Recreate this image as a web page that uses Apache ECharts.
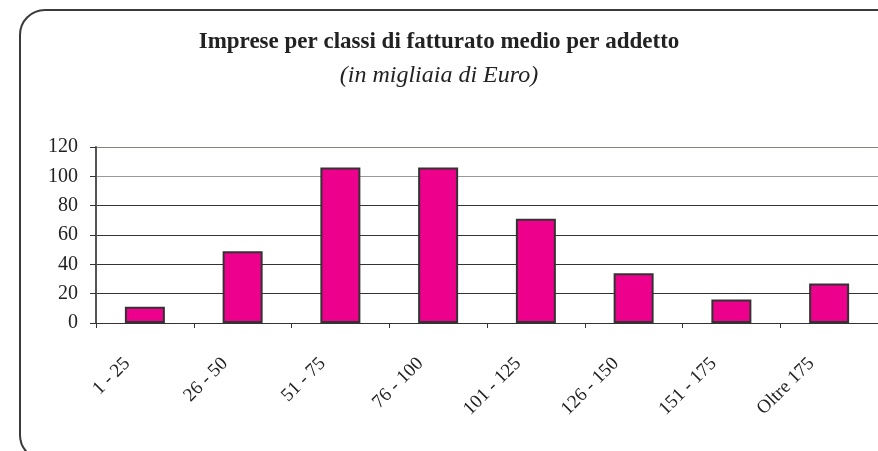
<!DOCTYPE html>
<html>
<head>
<meta charset="utf-8">
<script src="https://cdn.jsdelivr.net/npm/echarts@6/dist/echarts.min.js"></script>
<style>
  html, body { margin: 0; padding: 0; background: #fff; }
  #chart { width: 878px; height: 451px; }
</style>
</head>
<body>
<div id="chart"></div>
<script>
// classi di fatturato medio per addetto (migliaia di Euro)
const categories = ['1 - 25', '26 - 50', '51 - 75', '76 - 100', '101 - 125', '126 - 150', '151 - 175', 'Oltre 175'];
const imprese = [11, 49, 106, 106, 71, 34, 16, 27];
const yTicks = [0, 20, 40, 60, 80, 100, 120];

const serif = "'Liberation Serif', 'DejaVu Serif', serif";

const chart = echarts.init(document.getElementById('chart'));
chart.setOption({
  animation: false,
  backgroundColor: '#fff',
  title: [
    {
      text: 'Imprese per classi di fatturato medio per addetto',
      left: 'center',
      top: 31,
      padding: [0, 0, 0, 14],
      textStyle: { fontFamily: serif, fontSize: 23, fontWeight: 'bold', color: '#222' }
    },
    {
      text: '(in migliaia di Euro)',
      left: 'center',
      top: 64,
      padding: [0, 0, 0, 6],
      textStyle: { fontFamily: serif, fontSize: 24, fontStyle: 'italic', fontWeight: 'normal', color: '#222' }
    }
  ],
  // cornice arrotondata
  graphic: [
    {
      type: 'rect',
      z: -1,
      shape: { x: 20, y: 10, width: 900, height: 450, r: 25 },
      style: { fill: 'none', stroke: '#3a3a3a', lineWidth: 2 }
    }
  ],
  grid: { left: 96, right: 0, top: 147, bottom: 128 },
  xAxis: {
    type: 'category',
    data: categories,
    axisLine: { lineStyle: { color: '#333', width: 1 } },
    axisTick: { show: true, length: 5, lineStyle: { color: '#333' } },
    axisLabel: {
      interval: 0,
      rotate: 45,
      margin: 20,
      padding: [0, 25, 0, 0],
      fontFamily: serif,
      fontSize: 19,
      color: '#222'
    }
  },
  yAxis: {
    type: 'value',
    min: yTicks[0],
    max: yTicks[yTicks.length - 1],
    interval: 20,
    axisLine: { show: true, lineStyle: { color: '#555', width: 2 } },
    axisTick: { show: true, length: 6, lineStyle: { color: '#333' } },
    axisLabel: { margin: 18, fontFamily: serif, fontSize: 20, color: '#222' },
    splitLine: {
      show: true,
      lineStyle: { color: ['#333', '#333', '#333', '#333', '#333', '#999', '#8a8080'], width: 1 }
    }
  },
  series: [
    {
      type: 'bar',
      data: imprese,
      barWidth: 40,
      itemStyle: { color: '#EC008C', borderColor: '#333', borderWidth: 2 }
    }
  ]
});
</script>
</body>
</html>
